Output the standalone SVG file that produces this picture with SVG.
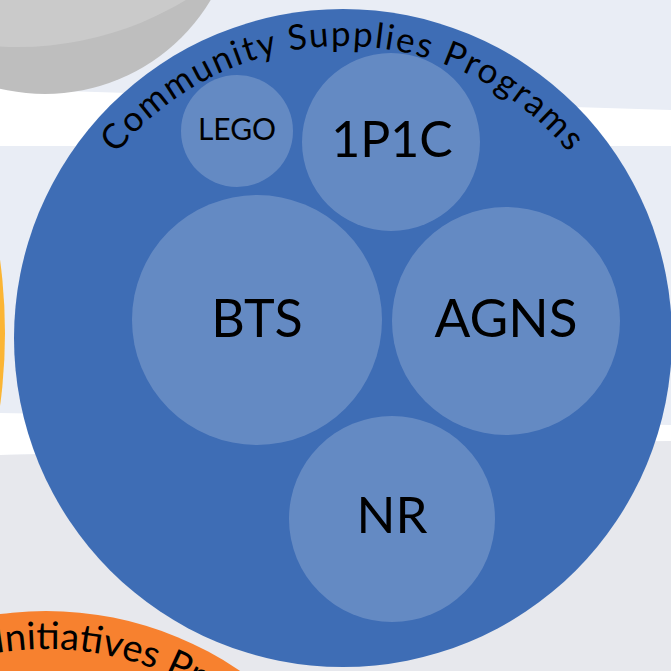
<svg xmlns="http://www.w3.org/2000/svg" width="671" height="671" viewBox="0 0 671 671">
  <style>
    .lbl { font-family: Lato, "Open Sans", "Liberation Sans", sans-serif; fill: #000; text-anchor: middle; }
    .arc { font-family: Lato, "Open Sans", "Liberation Sans", sans-serif; fill: #000; }
    .child { fill: #ffffff; fill-opacity: 0.2; }
  </style>
  <defs>
    <path id="blueArc" d="M 51 338 A 292 292 0 0 1 635 338"/>
    <path id="orangeArc" d="M -260 955 A 306 306 0 0 1 352 955"/>
  </defs>
  <g id="background">
    <rect x="0" y="0" width="671" height="671" fill="#e9edf5"/>
    <polygon points="0,89 671,110 671,146 0,146" fill="#ffffff"/>
    <polygon points="0,413 671,425 671,441 0,455" fill="#ffffff"/>
    <polygon points="0,455 671,441 671,671 0,671" fill="#e7e8ed"/>
  </g>
  <g id="gray-circle">
    <circle cx="45" cy="-99" r="193" fill="#bebebe"/>
    <circle cx="18" cy="-276" r="323" fill="#cacaca"/>
  </g>
  <g id="yellow-circle">
    <circle cx="-535" cy="333" r="540" fill="#fbb534"/>
  </g>
  <g id="orange-circle">
    <circle cx="46" cy="955" r="344" fill="#f7812f"/>
    <text class="arc" font-size="38"><textPath href="#orangeArc" startOffset="430">Initiatives Pr</textPath></text>
  </g>
  <g id="community-supplies">
    <circle cx="343" cy="338" r="329" fill="#3e6db5"/>
    <text class="arc" font-size="35" letter-spacing="1.9" text-anchor="middle"><textPath href="#blueArc" startOffset="50%">Community Supplies Programs</textPath></text>
  </g>
  <g id="node-lego">
    <circle class="child" cx="237" cy="131" r="56"/>
    <text class="lbl" x="237" y="140" font-size="30">LEGO</text>
  </g>
  <g id="node-1p1c">
    <circle class="child" cx="391" cy="142" r="89"/>
    <text class="lbl" x="392" y="157" font-size="50">1P1C</text>
  </g>
  <g id="node-bts">
    <circle class="child" cx="257" cy="320" r="125"/>
    <text class="lbl" x="257" y="337" font-size="52">BTS</text>
  </g>
  <g id="node-agns">
    <circle class="child" cx="506" cy="321" r="114"/>
    <text class="lbl" x="506" y="337" font-size="53">AGNS</text>
  </g>
  <g id="node-nr">
    <circle class="child" cx="392" cy="519" r="103"/>
    <text class="lbl" x="392" y="533" font-size="51">NR</text>
  </g>
  <g id="connectors"/>
</svg>
